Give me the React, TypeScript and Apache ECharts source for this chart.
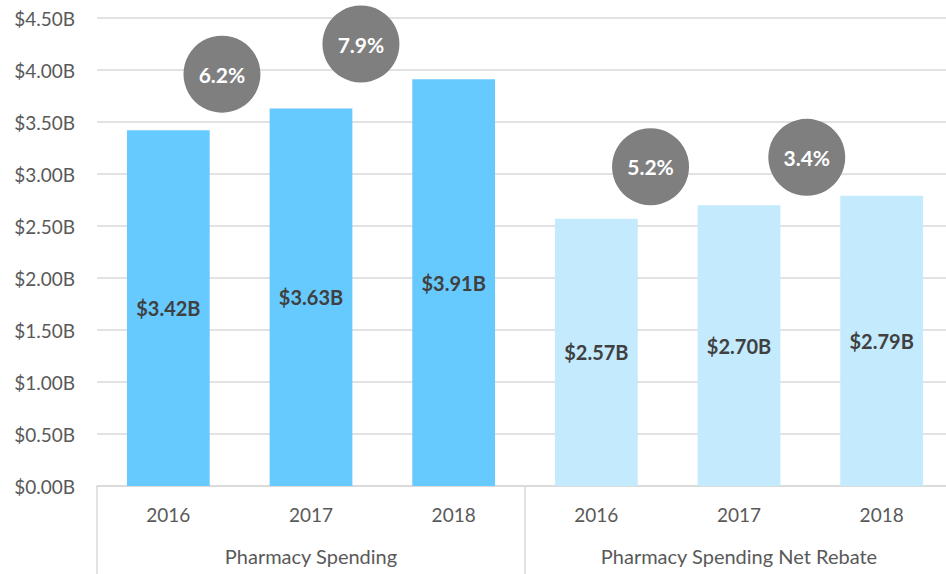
import React, { useEffect, useRef } from "react";
import * as echarts from "echarts";

const years = ["2016", "2017", "2018", "2016", "2017", "2018"];
const groups = ["Pharmacy Spending", "Pharmacy Spending Net Rebate"];
const spending = [3.42, 3.63, 3.91, 2.57, 2.7, 2.79];
const barColors = ["#66CAFF", "#66CAFF", "#66CAFF", "#C4EAFD", "#C4EAFD", "#C4EAFD"];
const growthLabels = ["6.2%", "7.9%", "5.2%", "3.4%"];
const growthX = [0.876, 1.85, 3.88, 4.975];
const growthY = [3.96, 4.25, 3.07, 3.16];
const yTicks = { min: 0, max: 4.5, interval: 0.5 };

const FONT = "Lato, 'DejaVu Sans', sans-serif";

export default function App() {
  const ref = useRef<HTMLDivElement>(null);
  useEffect(() => {
    if (!ref.current) return;
    const chart = echarts.init(ref.current, null, { renderer: "svg" });
    chart.setOption({
      animation: false,
      backgroundColor: "#ffffff",
      textStyle: { fontFamily: FONT },
      grid: { left: 97, right: 0, top: 18, bottom: 88, containLabel: false },
      xAxis: [
        {
          type: "category",
          data: years,
          position: "bottom",
          axisLine: { show: true, lineStyle: { color: "#d9d9d9", width: 1.5 } },
          axisTick: { show: false },
          axisLabel: { color: "#595959", fontSize: 19, margin: 19, fontFamily: FONT },
        },
        {
          type: "category",
          data: groups,
          position: "bottom",
          axisLine: { show: false },
          axisTick: { show: true, length: 88, lineStyle: { color: "#d9d9d9", width: 1.5 } },
          axisLabel: { color: "#595959", fontSize: 20, margin: 60, fontFamily: FONT },
        },
        {
          type: "value",
          min: 0,
          max: 6,
          show: false,
        },
      ],
      yAxis: {
        type: "value",
        min: yTicks.min,
        max: yTicks.max,
        interval: yTicks.interval,
        axisLine: { show: false },
        axisTick: { show: false },
        splitLine: { lineStyle: { color: "#d9d9d9", width: 1.5 } },
        axisLabel: {
          color: "#595959",
          fontSize: 19,
          margin: 22,
          fontFamily: FONT,
          formatter: (v: number) => "$" + v.toFixed(2) + "B",
        },
      },
      series: [
        {
          type: "bar",
          xAxisIndex: 0,
          barWidth: "58%",
          data: spending.map((v, i) => ({ value: v, itemStyle: { color: barColors[i] } })),
          label: {
            show: true,
            position: "inside",
            color: "#404040",
            fontWeight: "bold",
            fontSize: 20,
            fontFamily: FONT,
            formatter: (p: any) => "$" + Number(p.value).toFixed(2) + "B",
          },
        },
        {
          type: "scatter",
          xAxisIndex: 2,
          symbol: "circle",
          symbolSize: 77,
          itemStyle: { color: "#7F7F7F", opacity: 1 },
          data: growthX.map((x, i) => ({ value: [x, growthY[i]], name: growthLabels[i] })),
          label: {
            show: true,
            position: "inside",
            color: "#ffffff",
            fontWeight: "bold",
            fontSize: 21,
            fontFamily: FONT,
            formatter: (p: any) => p.name,
          },
          z: 5,
        },
      ],
    });
    return () => chart.dispose();
  }, []);
  return (
    <div
      style={{
        position: "fixed",
        left: 0,
        top: 0,
        width: 946,
        height: 574,
        overflow: "hidden",
        background: "#ffffff",
      }}
    >
      <div ref={ref} style={{ width: 953, height: 574 }} />
    </div>
  );
}
